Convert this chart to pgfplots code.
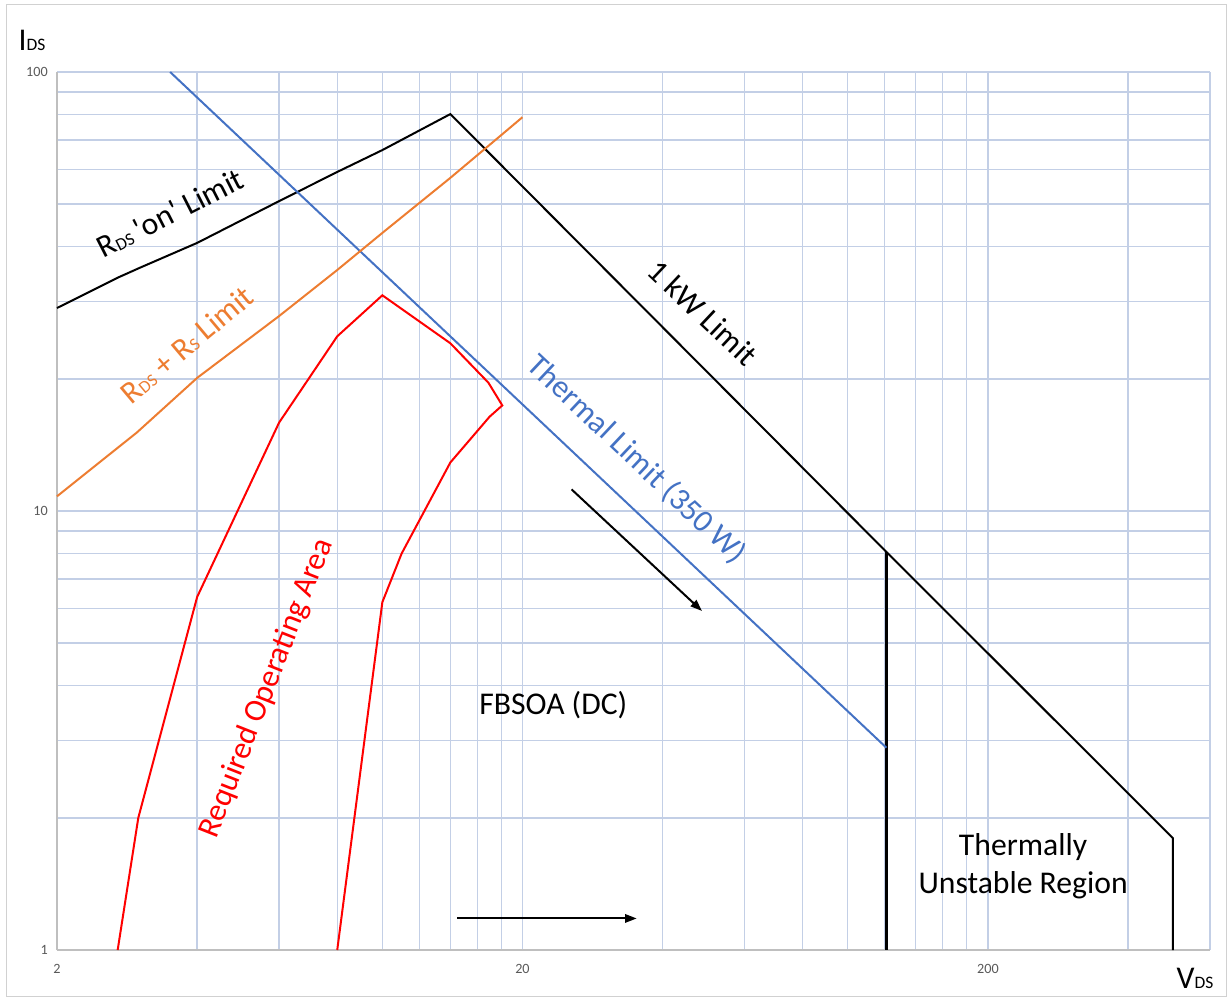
\documentclass[border=0pt]{standalone}
\usepackage{fontspec}
\setmainfont{Carlito}
\usepackage{pgfplots}
\pgfplotsset{compat=1.18}
\usetikzlibrary{arrows.meta}
\definecolor{gridc}{HTML}{C3CFE6}
\definecolor{axisgray}{HTML}{BFBFBF}
\definecolor{tickgray}{HTML}{595959}
\definecolor{bluec}{HTML}{4472C4}
\definecolor{orangec}{HTML}{ED7D31}
\definecolor{redc}{HTML}{FF0000}
\newcommand{\sub}[1]{{\fontsize{10.5}{11}\selectfont #1}}
\begin{document}
\begin{tikzpicture}
\useasboundingbox (-34.2pt,-30.6pt) rectangle (704.4pt,570pt);
\draw[color=black!18, line width=0.6pt] (-30pt,-27.6pt) rectangle (701.4pt,567pt);
\begin{axis}[
  at={(0,0)}, anchor=south west,
  scale only axis, width=691.8pt, height=526.8pt,
  xmode=log, ymode=log,
  xmin=2, xmax=600, ymin=1, ymax=100,
  xtick={2,20,200}, xticklabels={2,20,200},
  minor xtick={4,6,8,10,12,14,16,18,40,60,80,100,120,140,160,180,400,600},
  ytick={1,10,100}, yticklabels={1,10,100},
  minor ytick={2,3,4,5,6,7,8,9,20,30,40,50,60,70,80,90},
  grid=both,
  major grid style={draw=gridc, line width=0.8pt},
  minor grid style={draw=gridc, line width=0.8pt},
  axis x line*=bottom, axis y line*=left,
  axis line style={-, draw=axisgray, line width=0.8pt},
  major tick length=0pt, minor tick length=0pt,
  tick label style={font=\fontsize{8.5}{9}\selectfont, text=tickgray},
  /pgf/number format/assume math mode=true,
  xticklabel style={yshift=-5pt},
  yticklabel style={xshift=-2pt},
  clip=false,
]
% R_DS on limit and 1 kW limit
\addplot[black, line width=1.2pt] coordinates {
  (2,29) (2.70,34) (3.01,35.8) (4,40.8) (6,50.8) (8,59.2) (10,66.4) (14,80.2)
  (121,8.07) (499,1.80) (499,1)};
% vertical thermally unstable boundary
\addplot[black, line width=1.4pt] coordinates {(121,8.07) (121,1)};
% Thermal limit 350 W
\addplot[bluec, line width=1.2pt] coordinates {(3.5,100) (121,2.89)};
% R_DS + R_S limit
\addplot[orangec, line width=1.2pt] coordinates {
  (2,10.8) (2.97,15.1) (4,20.1) (6,27.8) (8,35.4) (10,43) (14,57.4) (18,71.8) (20,78.9)};
% Required operating area
\addplot[redc, line width=1.2pt] coordinates {
  (2.70,1) (2.99,2.0) (4,6.37) (6,15.9) (8,25.0) (10,31) (14,24.1) (16.9,19.6)
  (18.1,17.4) (17.0,16.4) (14,12.9) (11,8.0) (10,6.2) (8,1)};
% arrows
\addplot[black, line width=1.2pt, -{Triangle[length=7pt,width=5pt]}] coordinates {(25.5,11.2) (48.6,5.92)};
\addplot[black, line width=1.2pt, -{Triangle[length=7pt,width=5pt]}] coordinates {(14.5,1.18) (35.2,1.18)};
% annotations
\node[black, rotate=27, font=\fontsize{19}{22}\selectfont] at (axis cs:3.50,47.7) {R\sub{DS}\,\textquotesingle on\textquotesingle{} Limit};
\node[orangec, rotate=40, font=\fontsize{19}{22}\selectfont] at (axis cs:3.80,23.9) {R\sub{DS} + R\sub{S} Limit};
\node[black, rotate=-43.3, font=\fontsize{19}{22}\selectfont] at (axis cs:48.8,28.3) {1 kW Limit};
\node[bluec, rotate=-43.3, font=\fontsize{19}{22}\selectfont] at (axis cs:35.2,13.1) {Thermal Limit (350 W)};
\node[redc, rotate=68.5, font=\fontsize{19}{22}\selectfont] at (axis cs:5.65,3.95) {Required Operating Area};
\node[black, font=\fontsize{19}{22}\selectfont] at (axis cs:23.3,3.61) {FBSOA (DC)};
\node[black, font=\fontsize{19}{23}\selectfont, align=center] at (axis cs:238,1.55) {Thermally\\Unstable Region};
\end{axis}
\node[font=\fontsize{19}{22}\selectfont] at (-15pt,546pt) {I\sub{DS}};
\node[font=\fontsize{19}{22}\selectfont] at (682.8pt,-16.8pt) {V\sub{DS}};
\end{tikzpicture}
\end{document}
